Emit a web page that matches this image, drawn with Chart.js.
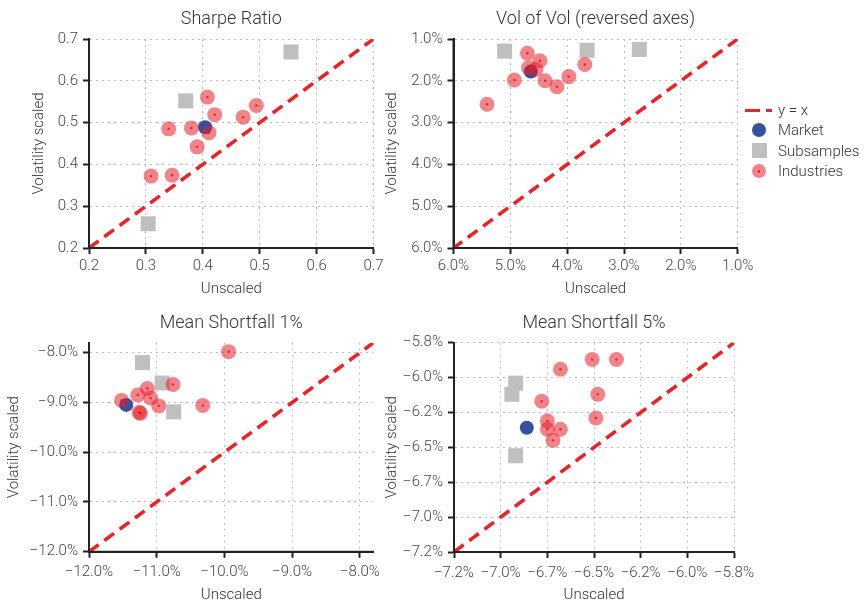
<!DOCTYPE html>
<html>
<head>
<meta charset="utf-8">
<script src="https://cdn.jsdelivr.net/npm/chart.js@4/dist/chart.umd.min.js"></script>
<style>
  html, body { margin: 0; padding: 0; background: #fff; overflow: hidden; }
  body { width: 866px; height: 604px; position: relative; font-family: Roboto, "Liberation Sans", sans-serif; font-weight: 300; }
  canvas { position: absolute; }
  #legend { position: absolute; left: 745px; top: 100px; color: #333; font-size: 15px; }
  #legend .row { position: relative; height: 20.4px; line-height: 20.4px; white-space: nowrap; }
  #legend .sym { position: absolute; left: 0; top: 0; width: 28px; height: 20.4px; }
  #legend .txt { position: absolute; left: 33px; top: 0; }
  .dash1, .dash2 { position: absolute; top: 8.5px; height: 3.6px; background: #ec2228; }
  .dash1 { left: 0; width: 15px; }
  .dash2 { left: 21px; width: 6px; }
  .dot { position: absolute; left: 7px; top: 3px; width: 14px; height: 14px; border-radius: 50%; }
  .dot.market { background: #34509e; }
  .dot.industry { background: rgba(232, 30, 40, 0.55); }
  .dot.industry::after { content: ""; position: absolute; left: 6px; top: 6px; width: 2.4px; height: 2.4px; border-radius: 50%; background: rgba(220, 20, 30, 0.9); }
  .square { position: absolute; left: 6.5px; top: 2.7px; width: 15px; height: 15px; background: #bfbfbf; }
</style>
</head>
<body>
<canvas id="sharpe" width="390" height="302" style="left:0;top:0"></canvas>
<canvas id="volofvol" width="380" height="302" style="left:380px;top:0"></canvas>
<canvas id="shortfall1" width="390" height="303" style="left:0;top:302px"></canvas>
<canvas id="shortfall5" width="380" height="303" style="left:380px;top:302px"></canvas>

<div id="legend">
  <div class="row"><span class="sym"><i class="dash1"></i><i class="dash2"></i></span><span class="txt">y = x</span></div>
  <div class="row"><span class="sym"><i class="dot market"></i></span><span class="txt">Market</span></div>
  <div class="row"><span class="sym"><i class="square"></i></span><span class="txt">Subsamples</span></div>
  <div class="row"><span class="sym"><i class="dot industry"></i></span><span class="txt">Industries</span></div>
</div>

<script>
// ---- Sharpe ratio: [unscaled, volatility scaled] ----
const sharpeIndustries = [
  [0.408, 0.561], [0.421, 0.519], [0.494, 0.541], [0.471, 0.513], [0.340, 0.485],
  [0.380, 0.487], [0.411, 0.476], [0.390, 0.442], [0.309, 0.372], [0.346, 0.374]
];
const sharpeMarket = [[0.404, 0.489]];
const sharpeSubsamples = [[0.555, 0.669], [0.370, 0.552], [0.304, 0.258]];
const sharpeDiagonal = [0.2, 0.7];
const sharpeTicks = [0.2, 0.3, 0.4, 0.5, 0.6, 0.7];
const sharpeTickLabels = ['0.2', '0.3', '0.4', '0.5', '0.6', '0.7'];

// ---- Vol of vol, in percent ----
const volIndustries = [
  [4.70, 1.34], [4.48, 1.52], [4.68, 1.69], [4.55, 1.73], [4.93, 1.98],
  [4.39, 2.00], [4.18, 2.14], [3.97, 1.90], [3.69, 1.61], [5.41, 2.56]
];
const volMarket = [[4.64, 1.78]];
const volSubsamples = [[5.10, 1.29], [3.65, 1.27], [2.73, 1.25]];
const volDiagonal = [1, 6];
const volTicks = [1, 2, 3, 4, 5, 6];
const volTickLabels = ['1.0%', '2.0%', '3.0%', '4.0%', '5.0%', '6.0%'];

// ---- Mean shortfall 1%, in percent ----
const shortfall1Industries = [
  [-9.94, -7.98], [-10.76, -8.64], [-11.14, -8.72], [-11.28, -8.85], [-11.09, -8.91],
  [-11.52, -8.96], [-10.97, -9.07], [-10.32, -9.06], [-11.26, -9.20], [-11.24, -9.22]
];
const shortfall1Market = [[-11.45, -9.05]];
const shortfall1Subsamples = [[-11.21, -8.20], [-10.92, -8.61], [-10.75, -9.19]];
const shortfall1Diagonal = [-12, -7.8];
const shortfall1Ticks = [-12, -11, -10, -9, -8];
const shortfall1TickLabels = ['\u221212.0%', '\u221211.0%', '\u221210.0%', '\u22129.0%', '\u22128.0%'];

// ---- Mean shortfall 5%, in percent ----
const shortfall5Industries = [
  [-6.51, -5.87], [-6.38, -5.87], [-6.68, -5.94], [-6.48, -6.12], [-6.78, -6.17],
  [-6.49, -6.29], [-6.75, -6.31], [-6.75, -6.37], [-6.68, -6.37], [-6.72, -6.45]
];
const shortfall5Market = [[-6.86, -6.36]];
const shortfall5Subsamples = [[-6.92, -6.04], [-6.94, -6.12], [-6.92, -6.56]];
const shortfall5Diagonal = [-7.25, -5.75];
const shortfall5Ticks = [-7.25, -7.0, -6.75, -6.5, -6.25, -6.0, -5.75];
const shortfall5TickLabels = ['\u22127.2%', '\u22127.0%', '\u22126.7%', '\u22126.5%', '\u22126.2%', '\u22126.0%', '\u22125.8%'];

Chart.defaults.font.family = 'Roboto, "Liberation Sans", sans-serif';
Chart.defaults.font.weight = '300';
Chart.defaults.animation = false;

const FONT_TICK = { size: 15, weight: '300', lineHeight: 1.2 };
const FONT_AXIS = { size: 15, weight: '300', lineHeight: 1.2 };
const FONT_TITLE = { size: 18, weight: '300', lineHeight: 1.2 };

const toPoints = pairs => pairs.map(([x, y]) => ({ x, y }));

function axis(ticks, labels, reverse, fit, title, titlePad, tickPad) {
  return {
    type: 'linear',
    reverse,
    afterBuildTicks: s => { s.ticks = ticks.map(v => ({ value: v })); },
    afterFit: fit,
    ticks: {
      callback: (v, i) => labels[i],
      color: '#444',
      font: FONT_TICK,
      padding: tickPad,
      autoSkip: false,
      maxRotation: 0
    },
    grid: {
      color: '#bdbdbd',
      lineWidth: 1,
      drawTicks: true,
      tickLength: 6,
      tickColor: '#222',
      tickWidth: 2,
      tickBorderDash: [1, 0]
    },
    // dotted grid lines; the axis line itself stays solid
    border: { display: true, color: '#222', width: 2, dash: [2, 4] },
    title: { display: true, text: title, color: '#333', font: FONT_AXIS, padding: titlePad }
  };
}

// keeps the two axis lines solid after the dotted grid has been drawn
const solidSpines = {
  id: 'solidSpines',
  afterDraw(chart) {
    const { ctx, chartArea: a } = chart;
    ctx.save();
    ctx.setLineDash([]);
    ctx.strokeStyle = '#222';
    ctx.lineWidth = 2;
    ctx.beginPath();
    ctx.moveTo(a.left, a.top);
    ctx.lineTo(a.left, a.bottom);
    ctx.lineTo(a.right, a.bottom);
    ctx.stroke();
    ctx.restore();
  }
};

function panel(id, spec) {
  const canvas = document.getElementById(id);
  const W = canvas.width, H = canvas.height;
  const a = spec.area;
  const xs = axis(spec.ticks, spec.labels, spec.reverse, s => { s.height = H - a.bottom; },
                  'Unscaled', { top: 0, bottom: spec.xTitlePad }, spec.xTickPad);
  const ys = axis(spec.ticks, spec.labels, spec.reverse, s => { s.width = a.left; },
                  'Volatility scaled', { top: spec.yTitlePad, bottom: 0 }, 5);
  xs.min = spec.range[0]; xs.max = spec.range[1];
  ys.min = spec.range[0]; ys.max = spec.range[1];

  return new Chart(canvas, {
    type: 'scatter',
    data: {
      datasets: [
        {
          label: 'Industries centre',
          data: toPoints(spec.industries),
          pointStyle: 'circle', pointRadius: 1.2, pointHoverRadius: 1.2,
          backgroundColor: 'rgba(220,20,30,0.85)', borderWidth: 0,
          order: 0, clip: false
        },
        {
          label: 'Industries',
          data: toPoints(spec.industries),
          pointStyle: 'circle', pointRadius: 7.5, pointHoverRadius: 7.5,
          backgroundColor: 'rgba(232,30,40,0.55)', borderWidth: 0,
          order: 1, clip: false
        },
        {
          label: 'Subsamples',
          data: toPoints(spec.subsamples),
          pointStyle: 'rect', pointRadius: 10.6, pointHoverRadius: 10.6,
          backgroundColor: '#bfbfbf', borderWidth: 0,
          order: 2, clip: false
        },
        {
          label: 'Market',
          data: toPoints(spec.market),
          pointStyle: 'circle', pointRadius: 7, pointHoverRadius: 7,
          backgroundColor: '#34509e', borderWidth: 0,
          order: 3, clip: false
        },
        {
          type: 'line',
          label: 'y = x',
          data: spec.diagonal.map(v => ({ x: v, y: v })),
          borderColor: '#ec2228', borderWidth: 3.6, borderDash: [12, 7],
          pointRadius: 0, fill: false, tension: 0,
          order: 4
        }
      ]
    },
    options: {
      responsive: false,
      animation: false,
      events: [],
      layout: { padding: { top: 0, left: 0, bottom: 0, right: W - a.right } },
      scales: { x: xs, y: ys },
      plugins: {
        legend: { display: false },
        tooltip: { enabled: false },
        title: {
          display: true, text: spec.title, fullSize: false,
          color: '#333', font: FONT_TITLE,
          padding: { top: spec.titleTop, bottom: a.top - spec.titleTop - FONT_TITLE.size * FONT_TITLE.lineHeight }
        }
      }
    },
    plugins: [solidSpines]
  });
}

panel('sharpe', {
  title: 'Sharpe Ratio',
  industries: sharpeIndustries, market: sharpeMarket, subsamples: sharpeSubsamples,
  diagonal: sharpeDiagonal, ticks: sharpeTicks, labels: sharpeTickLabels,
  range: [0.2, 0.7], reverse: false,
  area: { left: 89, right: 373.5, top: 39, bottom: 248 },
  titleTop: 8.2, xTitlePad: 4, yTitlePad: 30, xTickPad: 3
});

panel('volofvol', {
  title: 'Vol of Vol (reversed axes)',
  industries: volIndustries, market: volMarket, subsamples: volSubsamples,
  diagonal: volDiagonal, ticks: volTicks, labels: volTickLabels,
  range: [1, 6], reverse: true,
  area: { left: 73.5, right: 357.7, top: 39, bottom: 248 },
  titleTop: 8.2, xTitlePad: 4, yTitlePad: 3.5, xTickPad: 3
});

panel('shortfall1', {
  title: 'Mean Shortfall 1%',
  industries: shortfall1Industries, market: shortfall1Market, subsamples: shortfall1Subsamples,
  diagonal: shortfall1Diagonal, ticks: shortfall1Ticks, labels: shortfall1TickLabels,
  range: [-12, -7.8], reverse: false,
  area: { left: 89, right: 373.5, top: 40.7, bottom: 249.7 },
  titleTop: 10.2, xTitlePad: 1, yTitlePad: 5, xTickPad: 6
});

panel('shortfall5', {
  title: 'Mean Shortfall 5%',
  industries: shortfall5Industries, market: shortfall5Market, subsamples: shortfall5Subsamples,
  diagonal: shortfall5Diagonal, ticks: shortfall5Ticks, labels: shortfall5TickLabels,
  range: [-7.25, -5.75], reverse: false,
  area: { left: 74, right: 357.7, top: 40.7, bottom: 250 },
  titleTop: 10.2, xTitlePad: 1, yTitlePad: 3, xTickPad: 6
});
</script>
</body>
</html>
